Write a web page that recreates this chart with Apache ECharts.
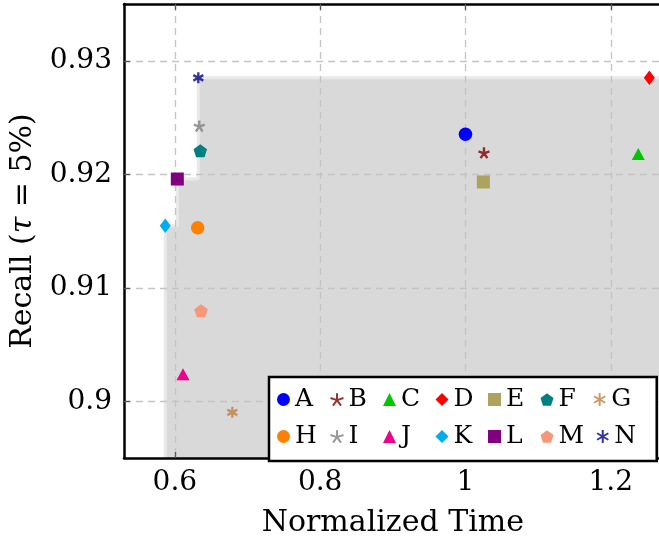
<!DOCTYPE html>
<html>
<head>
<meta charset="utf-8">
<script src="https://cdn.jsdelivr.net/npm/echarts@6/dist/echarts.min.js"></script>
<style>html,body{margin:0;padding:0;background:#fff}#c{width:659px;height:541px}</style>
</head>
<body>
<div id="c"></div>
<script>
const names = ['A','B','C','D','E','F','G','H','I','J','K','L','M','N'];
const timeVals = [1.0, 1.0255, 1.2379, 1.2531, 1.0246, 0.6350, 0.6791, 0.6314, 0.6336, 0.6112, 0.5868, 0.6034, 0.6360, 0.6323];
const recallVals = [0.92352, 0.9219, 0.92178, 0.9285, 0.91932, 0.92207, 0.89902, 0.91529, 0.92425, 0.90237, 0.91547, 0.91958, 0.90798, 0.9285];
const colors = ['#0000ff','#800000','#00c800','#ff0000','#aba35e','#008080','#bf8040','#ff8000','#808080','#ec008c','#00aeef','#800080','#f6977a','#000080'];
const xTicks = [0.6, 0.8, 1, 1.2];
const yTicks = [0.9, 0.91, 0.92, 0.93];
const X_MIN = 0.53, X_MAX = 1.27, Y_MIN = 0.895, Y_MAX = 0.935;

const STAR5 = 'path://M0 0L0 -1M0 0L0.951 -0.309M0 0L0.588 0.809M0 0L-0.588 0.809M0 0L-0.951 -0.309';
const AST6 = 'path://M0 -1L0 1M-0.866 -0.5L0.866 0.5M-0.866 0.5L0.866 -0.5';
const PENT = 'path://M0 -1L0.951 -0.309L0.588 0.809L-0.588 0.809L-0.951 -0.309Z';
const markers = {
  A:['circle',13.5], B:[STAR5,[11,11]], C:['triangle',[13,12]], D:['diamond',[11,14.5]],
  E:['rect',13], F:[PENT,[13.5,13]], G:[AST6,[10,11]], H:['circle',13.5],
  I:[STAR5,[11,11]], J:['triangle',[13,12]], K:['diamond',[11,14.5]], L:['rect',13],
  M:[PENT,[13.5,13]], N:[AST6,[10,11]]
};
const lineMarks = {B:1,G:1,I:1,N:1};

// Pareto frontier (dominated region)
const order = names.map((n,i)=>i).sort((a,b)=>timeVals[a]-timeVals[b]);
let best = -Infinity; const front = [];
order.forEach(i=>{ if (recallVals[i] > best) { best = recallVals[i]; front.push(i); } });
const poly = [[timeVals[front[0]], Y_MIN]];
front.forEach((i,k)=>{
  if (k>0) poly.push([timeVals[i], recallVals[front[k-1]]]);
  poly.push([timeVals[i], recallVals[i]]);
});
poly.push([X_MAX, recallVals[front[front.length-1]]]);

const FONT = 'DejaVu Serif';
const series = [{
  type:'line', data: poly, symbol:'none', z:1, silent:true,
  lineStyle:{color:'#e9e9e9', width:3},
  areaStyle:{color:'#d9d9d9', origin:'start', opacity:1}
}];
names.forEach((n,i)=>{
  const isLine = !!lineMarks[n];
  series.push({
    type:'scatter', name:n, z:3,
    symbol: markers[n][0], symbolSize: markers[n][1],
    itemStyle: isLine ? {color:colors[i], borderColor:colors[i], borderWidth:2.4} : {color:colors[i], opacity:1},
    data:[[timeVals[i], recallVals[i]]]
  });
});

const grid = {left:124, top:4, width:(X_MAX-X_MIN)*726.5, height:454, outerBoundsMode:'none', containLabel:false};
const splitLine = {show:true, lineStyle:{color:'#c4c4c4', width:1.3, type:[7,5]}};
const tickStyle = {show:true, inside:true, length:6, lineStyle:{color:'#555', width:1.3}};
const option = {
  animation:false,
  grid: grid,
  xAxis:[{
    type:'value', min:X_MIN, max:X_MAX, z:2,
    name:'Normalized Time', nameLocation:'middle', nameGap:50,
    nameTextStyle:{fontFamily:FONT, fontSize:30, color:'#000'},
    axisLine:{show:true, onZero:false, lineStyle:{color:'#000', width:2.5}},
    axisTick:Object.assign({customValues:xTicks}, tickStyle),
    axisLabel:{customValues:xTicks, fontFamily:FONT, fontSize:28, color:'#000', margin:11},
    splitLine:splitLine
  },{
    type:'value', position:'top', min:X_MIN, max:X_MAX, z:2,
    axisLine:{show:true, onZero:false, lineStyle:{color:'#000', width:2.5}},
    axisTick:Object.assign({customValues:xTicks}, tickStyle),
    axisLabel:{show:false}, splitLine:{show:false}
  }],
  yAxis:[{
    type:'value', min:Y_MIN, max:Y_MAX, z:2,
    name:'{r|Recall (}{t|τ}{r| = 5%)}', nameLocation:'middle', nameGap:86,
    nameTextStyle:{fontFamily:FONT, fontSize:30, color:'#000',
      rich:{r:{fontFamily:FONT, fontSize:30, color:'#000'}, t:{fontFamily:FONT, fontSize:30, fontStyle:'italic', color:'#000'}}},
    axisLine:{show:true, onZero:false, lineStyle:{color:'#000', width:2.5}},
    axisTick:Object.assign({customValues:yTicks}, tickStyle),
    axisLabel:{customValues:yTicks, fontFamily:FONT, fontSize:28, color:'#000', margin:12},
    splitLine:splitLine
  }],
  legend:{
    data:names, left:269, top:377, width:370,
    orient:'horizontal', itemWidth:13, itemHeight:13, itemGap:12,
    padding:[10,20,12,8],
    borderColor:'#000', borderWidth:2.5, backgroundColor:'#fff',
    textStyle:{fontFamily:FONT, fontSize:25, color:'#000', width:22.5, lineHeight:20}
  },
  series: series
};
const chart = echarts.init(document.getElementById('c'), null, {renderer:'canvas'});
chart.setOption(option);
</script>
</body>
</html>
